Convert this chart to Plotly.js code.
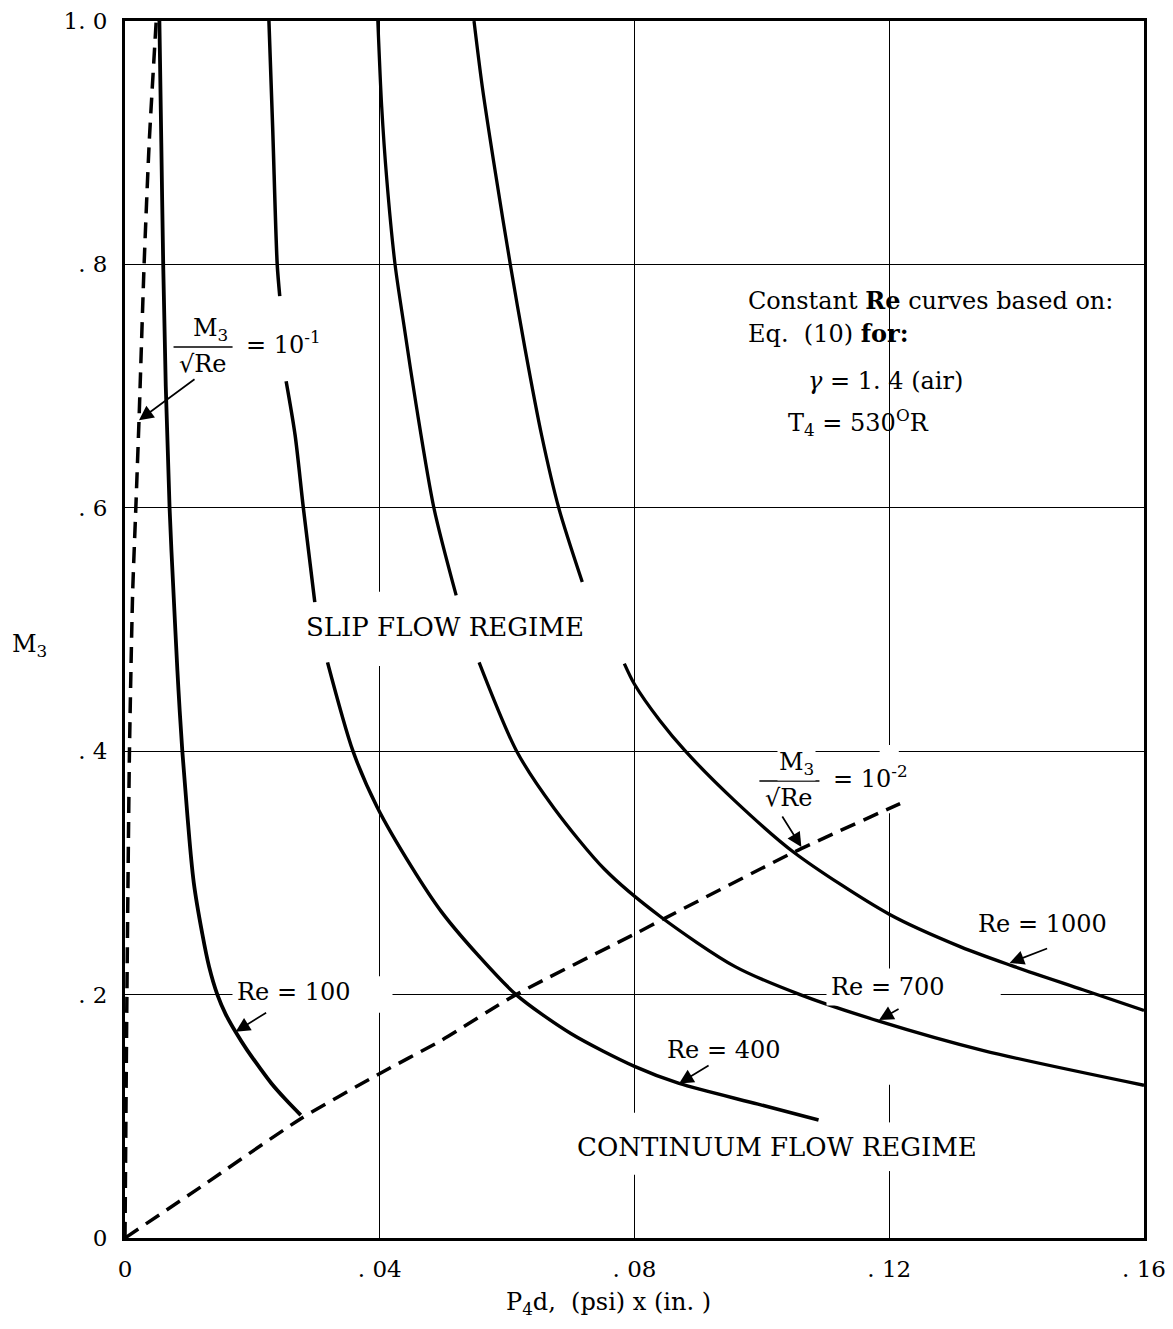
<!DOCTYPE html>
<html>
<head>
<meta charset="utf-8">
<script src="https://cdn.plot.ly/plotly-3.0.1.min.js"></script>
<style>html,body{margin:0;padding:0;background:#fff;}#chart{width:1173px;height:1329px;}</style>
</head>
<body>
<div id="chart"></div>
<script>
// ---- data (x = P4d, y = M3) ----
const re100X = [0.0054,0.0057,0.0060,0.0064,0.0070,0.0079,0.0084,0.0090,0.0098,0.0108,0.0121,0.0132,0.0145,0.0158,0.0174,0.0191,0.0210,0.0230,0.0252,0.0276];
const re100Y = [1.0,0.9,0.8,0.7,0.6,0.5,0.45,0.4,0.347,0.292,0.251,0.223,0.2,0.184,0.169,0.155,0.141,0.127,0.114,0.101];

const re400X = [0.0226,0.0232,0.0239,0.0243,null,0.0253,0.0267,0.0280,0.0298,null,0.0318,0.0358,0.0396,0.0450,0.0497,0.0555,0.0614,0.0700,0.0800,0.0870,0.0994,0.1089];
const re400Y = [1.0,0.91,0.8,0.774,null,0.704,0.66,0.6,0.5225,null,0.473,0.40,0.354,0.305,0.268,0.232,0.2,0.168,0.141,0.127,0.110,0.097];

const re700X = [0.0397,0.0403,0.0411,0.0424,0.0438,0.0457,0.0485,0.0520,null,0.0556,0.0615,0.0674,0.0753,0.0841,0.0958,0.1060,0.1185,0.1348,0.16];
const re700Y = [1.0,0.93,0.87,0.8,0.75,0.685,0.6,0.528,null,0.473,0.4,0.353,0.303,0.264,0.223,0.2,0.178,0.154,0.1255];

const re1000X = [0.0548,0.0561,0.0582,0.0605,0.0628,0.0654,0.0681,0.0718,null,0.0784,0.0800,0.0840,0.0880,0.0958,0.1050,0.1200,0.1313,0.1391,0.1504,0.16];
const re1000Y = [1.0,0.946,0.874,0.8,0.731,0.66,0.6,0.539,null,0.472,0.455,0.425,0.4,0.359,0.317,0.266,0.239,0.224,0.204,0.187];

// M3/sqrt(Re) = 10^-1 boundary
const slip1X = [0,0.0003,0.0007,0.0012,0.0017,0.0022,0.0030,0.0038,0.0049];
const slip1Y = [0,0.2,0.4,0.53,0.6,0.672,0.8,0.9,1.0];

// M3/sqrt(Re) = 10^-2 boundary
const slip2X = [0,0.0119,0.0276,0.0396,0.0497,0.0614,0.0805,0.0845,0.1050,0.1217];
const slip2Y = [0,0.042,0.098,0.134,0.1625,0.2,0.251,0.262,0.317,0.357];

const xTickVals = [0,0.04,0.08,0.12,0.16];
const xTickText = ["0",". 04",". 08",". 12",". 16"];
const yTickVals = [0,0.2,0.4,0.6,0.8,1.0];
const yTickText = ["0",". 2",". 4",". 6",". 8","1. 0"];

const FONT = "DejaVu Serif";
const FS = 24;

function solid(x, y, w, sm) {
  return {x:x, y:y, type:'scatter', mode:'lines', connectgaps:false, hoverinfo:'skip',
          line:{color:'#000', width:w, shape:'spline', smoothing:sm}, showlegend:false};
}
function dashed(x, y) {
  return {x:x, y:y, type:'scatter', mode:'lines', hoverinfo:'skip',
          line:{color:'#000', width:3.5, dash:'16px,9px', shape:'spline', smoothing:0.6}, showlegend:false};
}

const traces = [
  dashed(slip1X, slip1Y),
  dashed(slip2X, slip2Y),
  solid(re100X, re100Y, 3.8, 1.0),
  solid(re400X, re400Y, 3.5, 0.8),
  solid(re700X, re700Y, 3.3, 0.8),
  solid(re1000X, re1000Y, 3.3, 0.8)
];

function label(text, x, y, opts) {
  return Object.assign({text:text, x:x, y:y, xref:'x', yref:'y', showarrow:false,
    font:{family:FONT, size:FS, color:'#000'}, xanchor:'center', yanchor:'middle'}, opts||{});
}
function arrow(x, y, ax, ay) {
  return {text:'', x:x, y:y, xref:'x', yref:'y', ax:ax, ay:ay, showarrow:true,
    arrowhead:2, arrowsize:1.7, arrowwidth:1.7, arrowcolor:'#000', standoff:0};
}

const annotations = [
  // fraction labels
  label('M<sub>3</sub>', 0.01226, 0.7321, {yanchor:'bottom', xshift:7, yshift:0}),
  label('√Re', 0.01226, 0.7321, {yanchor:'top', yshift:-1}),
  label('= 10<sup>-1</sup>', 0.01862, 0.7354, {xanchor:'left', bgcolor:'#fff'}),
  label('M<sub>3</sub>', 0.1043, 0.3755, {yanchor:'bottom', xshift:7, yshift:0, bgcolor:'#fff'}),
  label('√Re', 0.1043, 0.3755, {yanchor:'top', yshift:-1}),
  label('= 10<sup>-2</sup>', 0.1109, 0.3788, {xanchor:'left', bgcolor:'#fff'}),
  // Re labels
  label('Re = 100', 0.02648, 0.2021, {bgcolor:'#fff', borderpad:4}),
  label('Re = 400', 0.0939, 0.1545, {bgcolor:'#fff'}),
  label('Re = 700', 0.1198, 0.2062, {bgcolor:'#fff', borderpad:4}),
  label('Re = 1000', 0.1441, 0.258, {bgcolor:'#fff'}),
  // regimes
  label('SLIP FLOW REGIME', 0.0503, 0.502, {bgcolor:'#fff', borderpad:5, font:{family:FONT, size:26, color:'#000'}}),
  label('CONTINUUM FLOW REGIME', 0.1024, 0.0748, {bgcolor:'#fff', borderpad:7, font:{family:FONT, size:26, color:'#000'}}),
  // notes block
  label('Constant <b>Re</b> curves based on:', 0.0975, 0.7707, {xanchor:'left'}),
  label('Eq.  (10) <b>for:</b>', 0.0975, 0.7436, {xanchor:'left'}),
  label('<i>γ</i> = 1. 4 (air)', 0.1070, 0.7042, {xanchor:'left'}),
  label('T<sub>4</sub> = 530<sup>O</sup>R', 0.1038, 0.670, {xanchor:'left'}),
  // arrows
  arrow(0.0022, 0.672, 57, -42),
  arrow(0.1062, 0.3213, -20, -32),
  arrow(0.01737, 0.1695, 32, -20),
  arrow(0.0870, 0.1269, 31, -19),
  arrow(0.1184, 0.1791, 21, -12),
  arrow(0.1389, 0.226, 39, -15),
  // axis titles
  {text:'M<sub>3</sub>', xref:'paper', yref:'paper', x:-0.113, y:0.487, xanchor:'left', yanchor:'middle',
   showarrow:false, font:{family:FONT, size:FS, color:'#000'}},
  {text:'P<sub>4</sub>d,  (psi) x (in. )', xref:'paper', yref:'paper', x:0.372, y:-0.054, xanchor:'left', yanchor:'middle',
   showarrow:false, font:{family:FONT, size:FS, color:'#000'}}
];

function gap(x0, x1, y0, y1) {
  return {type:'rect', layer:'between', xref:'x', yref:'y', x0:x0, x1:x1, y0:y0, y1:y1,
          fillcolor:'#fff', line:{width:0}};
}

const shapes = [
  {type:'line', xref:'x', yref:'y', x0:0.00762, x1:0.01689, y0:0.7321, y1:0.7321, line:{color:'#000', width:1.5}},
  {type:'line', xref:'x', yref:'y', x0:0.09961, x1:0.10904, y0:0.3755, y1:0.3755, line:{color:'#000', width:1.5}},
  // breaks in the grid lines as in the original drawing
  gap(0.0385, 0.0415, 0.470, 0.531),
  gap(0.1185, 0.1215, 0.349, 0.405),
  gap(0.1185, 0.1215, 0.126, 0.200),
  gap(0.1280, 0.1375, 0.190, 0.210),
  gap(0.0355, 0.0420, 0.185, 0.215),
  gap(0.0785, 0.0815, 0.052, 0.103),
  gap(0.1185, 0.1215, 0.055, 0.095)
];

const axisCommon = {
  showgrid:true, gridcolor:'#000', gridwidth:1, showline:true, linecolor:'#000', linewidth:3,
  mirror:true, zeroline:false, ticks:'', tickfont:{family:FONT, size:23, color:'#000'}, fixedrange:true
};

const layout = {
  width:1173, height:1329,
  margin:{l:125, r:29, t:21, b:91},
  paper_bgcolor:'#fff', plot_bgcolor:'#fff',
  showlegend:false,
  xaxis:Object.assign({}, axisCommon, {range:[0,0.16], tickmode:'array', tickvals:xTickVals, ticktext:xTickText, ticklabelstandoff:8}),
  yaxis:Object.assign({}, axisCommon, {range:[0,1.0], tickmode:'array', tickvals:yTickVals, ticktext:yTickText, ticklabelstandoff:10}),
  annotations:annotations,
  shapes:shapes
};

Plotly.newPlot('chart', traces, layout, {staticPlot:true, displayModeBar:false});
</script>
</body>
</html>
